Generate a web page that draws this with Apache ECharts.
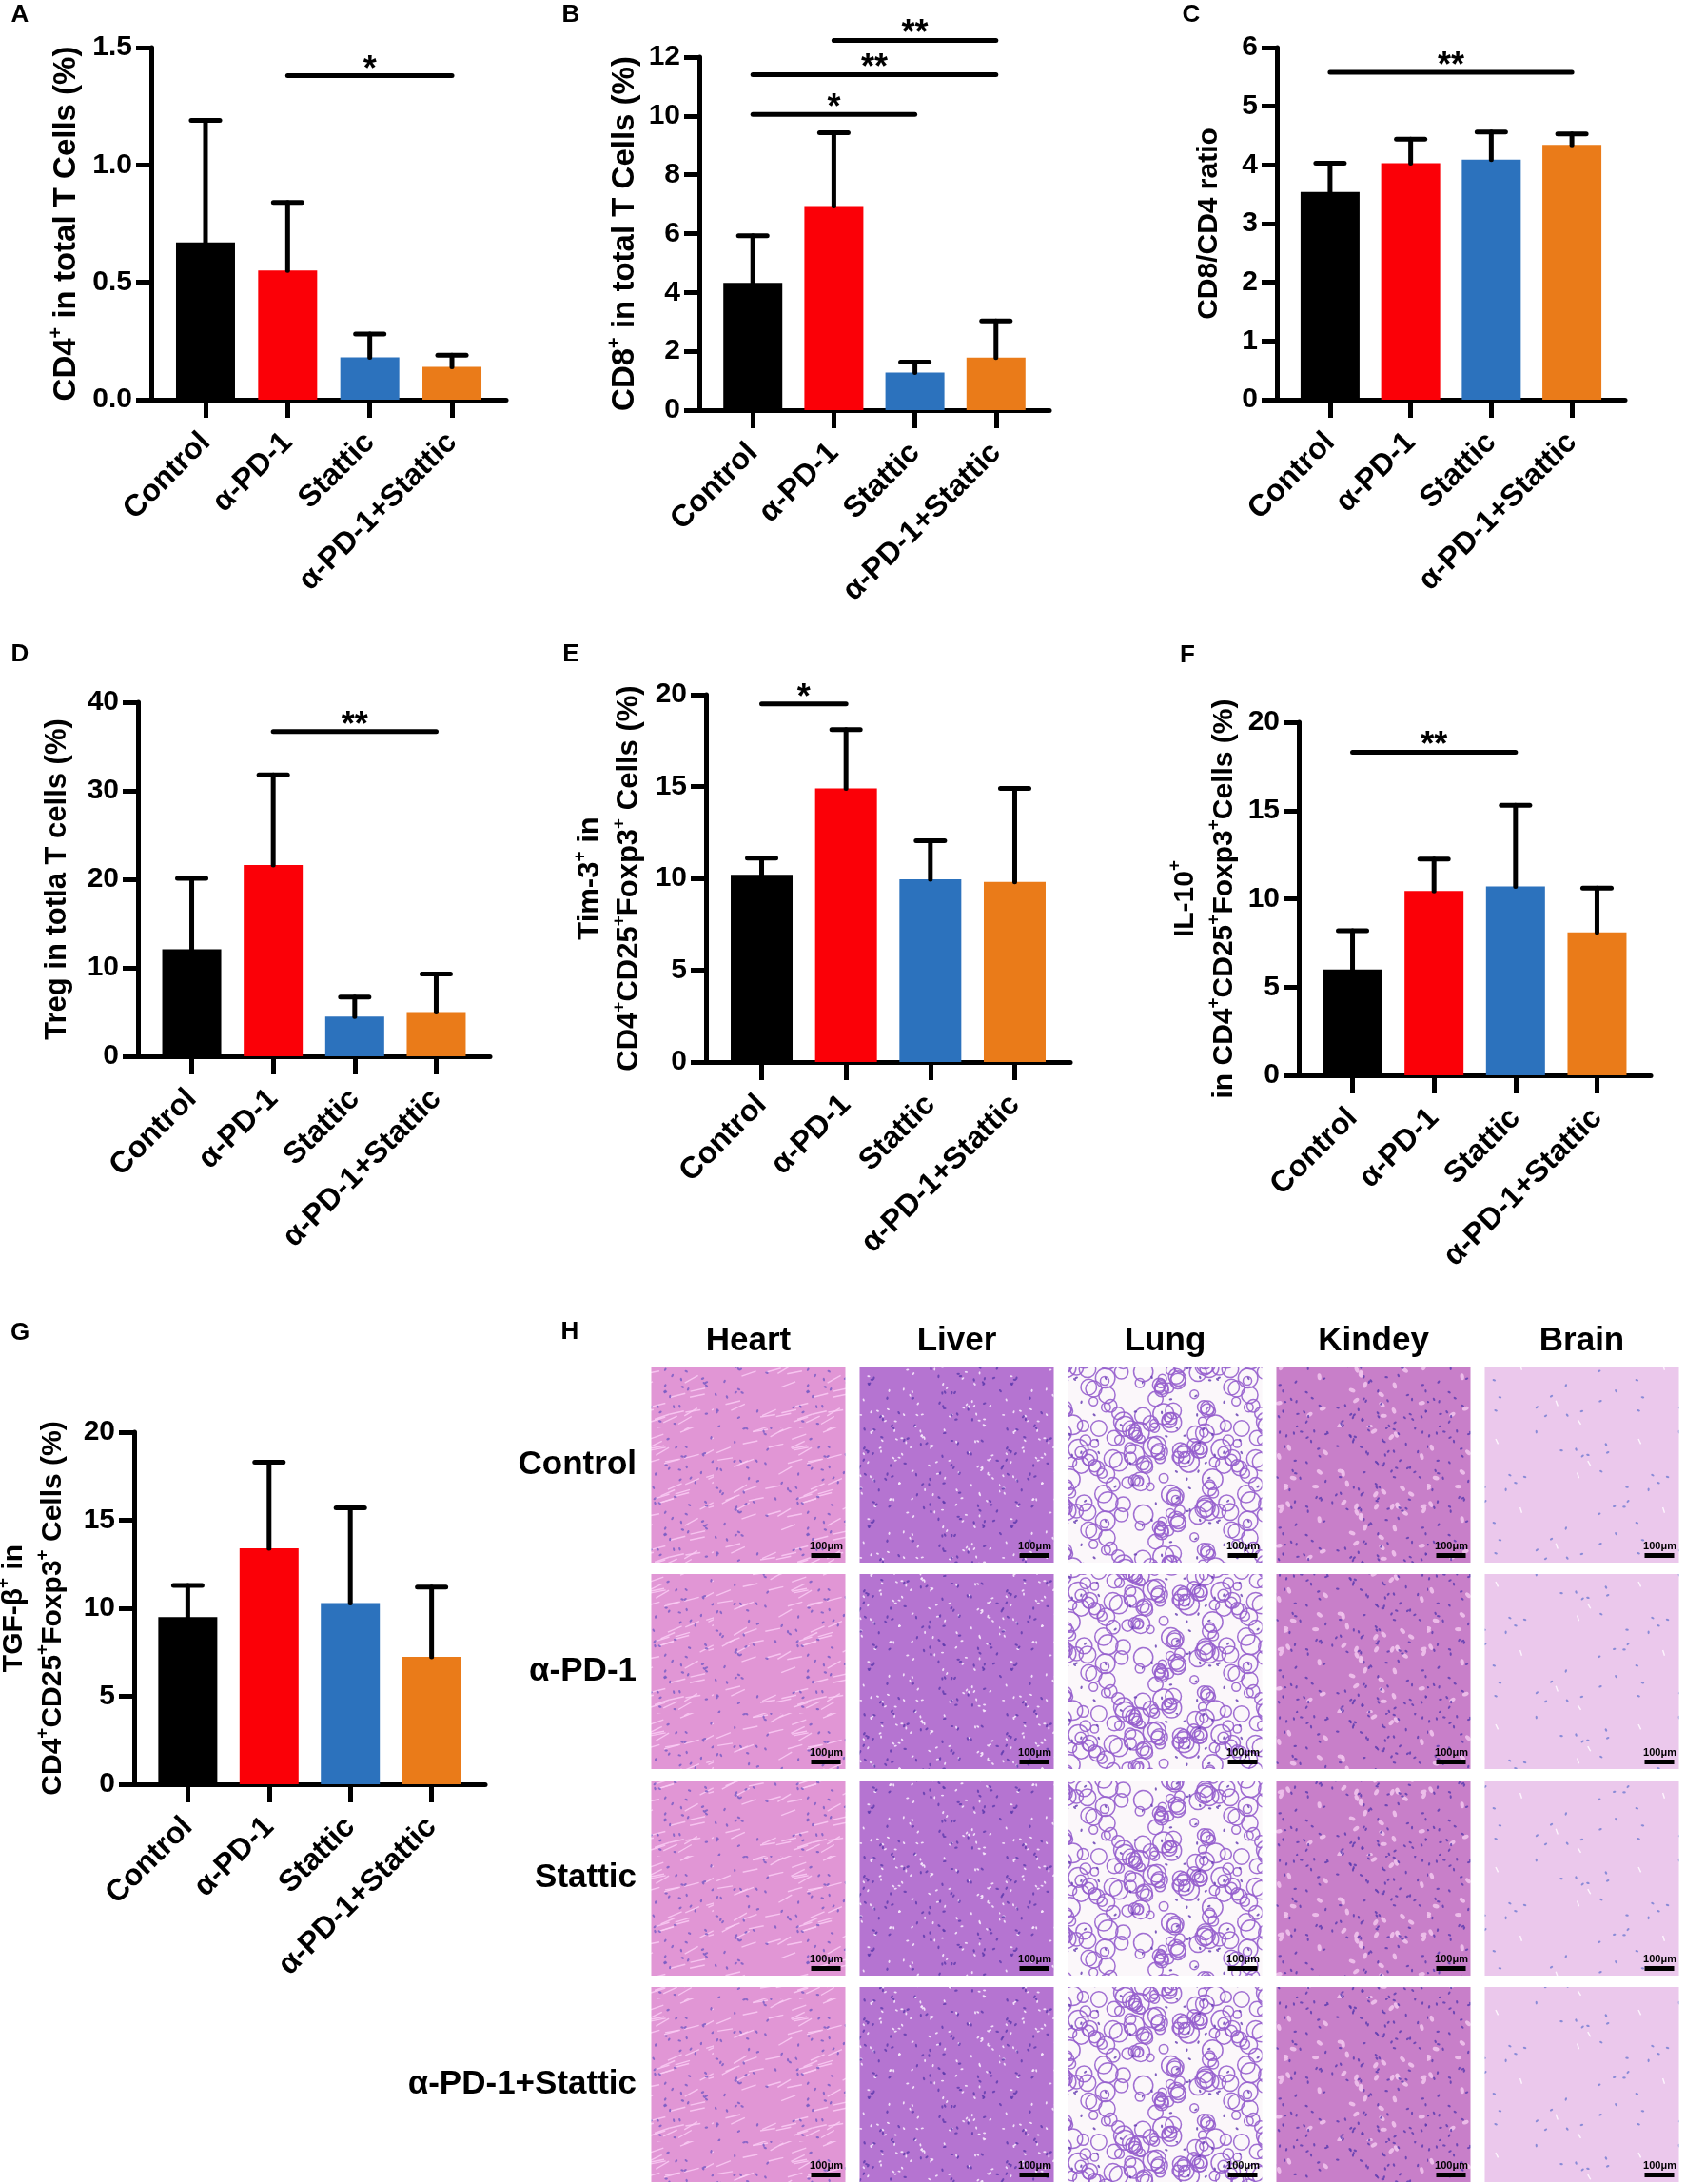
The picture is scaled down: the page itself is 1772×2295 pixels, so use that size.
<!DOCTYPE html>
<html>
<head>
<meta charset="utf-8">
<script src="https://cdn.jsdelivr.net/npm/echarts@6/dist/echarts.min.js"></script>
<style>
  html, body { margin: 0; padding: 0; background: #fff; }
  #main { width: 1772px; height: 2295px; }
</style>
</head>
<body>
<div id="main"></div>
<script>
// groups and colours shared by every bar panel
const groups = ['Control', 'α-PD-1', 'Stattic', 'α-PD-1+Stattic'];
const groupPos = [0, 1, 2, 3];
const barColors = ['#000000', '#FB0007', '#2C72BD', '#EA7B19'];

// A  CD4+ in total T cells
const cd4Mean = [0.67, 0.55, 0.18, 0.14];
const cd4Sd = [0.52, 0.29, 0.10, 0.05];
const cd4Sig = [[1, 3, 1.38, '*']];

// B  CD8+ in total T cells
const cd8Mean = [4.33, 6.94, 1.28, 1.79];
const cd8Sd = [1.60, 2.49, 0.35, 1.24];
const cd8Sig = [[0, 2, 10.05, '*'], [0, 3, 11.4, '**'], [1, 3, 12.57, '**']];

// C  CD8/CD4 ratio
const ratioMean = [3.54, 4.03, 4.09, 4.34];
const ratioSd = [0.49, 0.41, 0.47, 0.19];
const ratioSig = [[0, 3, 5.58, '**']];

// D  Treg
const tregMean = [12.1, 21.6, 4.5, 5.0];
const tregSd = [8.0, 10.2, 2.2, 4.3];
const tregSig = [[1, 3, 36.7, '**']];

// E  Tim-3+
const timMean = [10.2, 14.9, 9.95, 9.8];
const timSd = [0.9, 3.2, 2.1, 5.1];
const timSig = [[0, 1, 19.5, '*']];

// F  IL-10+
const il10Mean = [6.0, 10.45, 10.7, 8.1];
const il10Sd = [2.2, 1.8, 4.6, 2.5];
const il10Sig = [[0, 2, 18.3, '**']];

// G  TGF-beta+
const tgfMean = [9.5, 13.4, 10.3, 7.25];
const tgfSd = [1.8, 4.9, 5.4, 3.95];
const tgfSig = [];

// H  HE staining grid
const tissues = ['Heart', 'Liver', 'Lung', 'Kindey', 'Brain'];

const FONT = 'Liberation Sans, Arial, Helvetica, sans-serif';

const panels = [
  { letter: 'A', lx: 21, ly: 16, mean: cd4Mean, sd: cd4Sd, sig: cd4Sig, max: 1.5, step: 0.5, dec: 1,
    name: 'CD4{s|+} in total T Cells (%)', nfs: 33, gap: 69, bw: 62, rect: [159, 50, 373, 370] },
  { letter: 'B', lx: 600, ly: 16, mean: cd8Mean, sd: cd8Sd, sig: cd8Sig, max: 12, step: 2, dec: 0,
    name: 'CD8{s|+} in total T Cells (%)', nfs: 33, gap: 58, bw: 62, rect: [735, 60, 368, 371] },
  { letter: 'C', lx: 1252, ly: 16, mean: ratioMean, sd: ratioSd, sig: ratioSig, max: 6, step: 1, dec: 0,
    name: 'CD8/CD4 ratio', nfs: 30, gap: 51, bw: 62, rect: [1342, 50, 366, 370] },
  { letter: 'D', lx: 21, ly: 688, mean: tregMean, sd: tregSd, sig: tregSig, max: 40, step: 10, dec: 0,
    name: 'Treg in totla T cells (%)', nfs: 31, gap: 64, bw: 62, rect: [145, 738, 370, 372] },
  { letter: 'E', lx: 600, ly: 688, mean: timMean, sd: timSd, sig: timSig, max: 20, step: 5, dec: 0,
    name: 'Tim-3{s|+} in\nCD4{s|+}CD25{s|+}Foxp3{s|+} Cells (%)', nfs: 31, gap: 60, bw: 65, rect: [742, 730, 383, 386] },
  { letter: 'F', lx: 1248, ly: 689, mean: il10Mean, sd: il10Sd, sig: il10Sig, max: 20, step: 5, dec: 0,
    name: 'IL-10{s|+}\nin CD4{s|+}CD25{s|+}Foxp3{s|+}Cells (%)', nfs: 30, gap: 53, bw: 62, rect: [1365, 759, 370, 371] },
  { letter: 'G', lx: 21, ly: 1401, mean: tgfMean, sd: tgfSd, sig: tgfSig, max: 20, step: 5, dec: 0,
    name: 'TGF-β{s|+} in\nCD4{s|+}CD25{s|+}Foxp3{s|+} Cells (%)', nfs: 30, gap: 65, bw: 62, rect: [141, 1505, 369, 370] }
];

// texture tiles for the stained sections (deterministic hash, only a fill texture)
function hash(n) {
  n = (n ^ 61) ^ (n >>> 16);
  n = n + (n << 3);
  n = n ^ (n >>> 4);
  n = Math.imul(n, 0x27d4eb2d);
  n = n ^ (n >>> 15);
  return (n >>> 0) / 4294967296;
}
const tileStyles = {
  Heart:  { base: '#E196D5', streak: 'rgba(250,205,244,0.85)', nStreak: 70, ang: -0.35, len: 16,
            dot: 'rgba(110,85,195,0.75)', nDot: 90 },
  Liver:  { base: '#B574D1', speck: 'rgba(246,232,252,0.9)', nSpeck: 110, sr: 1.6,
            dot: 'rgba(92,58,172,0.8)', nDot: 90 },
  Lung:   { base: '#FBF7FA', net: 'rgba(150,95,205,0.9)', nNet: 120, r0: 4, r1: 7,
            dot: 'rgba(105,65,180,0.85)', nDot: 40 },
  Kindey: { base: '#C87FC9', speck: 'rgba(240,195,236,0.9)', nSpeck: 45, sr: 3.5,
            dot: 'rgba(88,58,175,0.8)', nDot: 130 },
  Brain:  { base: '#EBC8EC', streak: 'rgba(255,250,255,0.9)', nStreak: 6, ang: 1.2, len: 6,
            dot: 'rgba(120,128,212,0.85)', nDot: 28 }
};

function makeTile(kind, seed) {
  const S = 150;
  const cv = document.createElement('canvas');
  cv.width = S; cv.height = S;
  const g = cv.getContext('2d');
  const t = tileStyles[kind];
  g.fillStyle = t.base;
  g.fillRect(0, 0, S, S);
  let k = seed * 1000;
  if (t.net) {
    g.strokeStyle = t.net;
    g.lineWidth = 1.5;
    for (let i = 0; i < t.nNet; i++) {
      const x = hash(k++) * S, y = hash(k++) * S, r = t.r0 + hash(k++) * t.r1;
      for (let dx = -S; dx <= S; dx += S) {
        for (let dy = -S; dy <= S; dy += S) {
          g.beginPath();
          g.arc(x + dx, y + dy, r, 0, Math.PI * 2);
          g.stroke();
        }
      }
    }
  }
  if (t.streak) {
    g.strokeStyle = t.streak;
    g.lineWidth = 1.4;
    for (let i = 0; i < t.nStreak; i++) {
      const x = hash(k++) * S, y = hash(k++) * S;
      const a = t.ang + (hash(k++) - 0.5) * 0.4;
      g.beginPath();
      g.moveTo(x, y);
      g.lineTo(x + Math.cos(a) * t.len, y + Math.sin(a) * t.len);
      g.stroke();
    }
  }
  if (t.speck) {
    g.fillStyle = t.speck;
    for (let i = 0; i < t.nSpeck; i++) {
      g.beginPath();
      g.ellipse(hash(k++) * S, hash(k++) * S, t.sr, t.sr * 0.6, hash(k++) * 3, 0, Math.PI * 2);
      g.fill();
    }
  }
  g.fillStyle = t.dot;
  for (let i = 0; i < t.nDot; i++) {
    g.beginPath();
    g.ellipse(hash(k++) * S, hash(k++) * S, 1.8, 1.1, hash(k++) * 3, 0, Math.PI * 2);
    g.fill();
  }
  return cv;
}
const tiles = {};
tissues.forEach(function (t, i) { tiles[t] = makeTile(t, i + 1); });

const myChart = echarts.init(document.getElementById('main'));

const grid = [], xAxis = [], yAxis = [], series = [], graphic = [];

panels.forEach(function (p, i) {
  grid.push({ left: p.rect[0], top: p.rect[1], width: p.rect[2], height: p.rect[3], outerBoundsMode: 'none' });
  // groups sit on a value axis so the outer gaps match the original layout
  xAxis.push({
    gridIndex: i, type: 'value', min: -0.66, max: 3.66,
    axisLine: { show: true, lineStyle: { color: '#000', width: 5 } },
    axisTick: { show: true, customValues: groupPos, length: 19, lineStyle: { color: '#000', width: 5 } },
    axisLabel: {
      customValues: groupPos, rotate: 45, margin: 40, align: 'right', verticalAlign: 'middle',
      fontSize: 32, fontWeight: 'bold', color: '#000', fontFamily: FONT,
      formatter: function (v) { return groups[Math.round(v)]; }
    },
    splitLine: { show: false }
  });
  yAxis.push({
    gridIndex: i, type: 'value', min: 0, max: p.max, interval: p.step,
    axisLine: { show: true, onZero: false, lineStyle: { color: '#000', width: 5 } },
    axisTick: { show: true, length: 16, lineStyle: { color: '#000', width: 5 } },
    axisLabel: {
      margin: 20, fontSize: 30, fontWeight: 'bold', color: '#000', fontFamily: FONT,
      formatter: (function (d) { return function (v) { return v.toFixed(d); }; })(p.dec)
    },
    splitLine: { show: false },
    name: p.name, nameLocation: 'middle', nameGap: p.gap,
    nameTextStyle: {
      fontSize: p.nfs, fontWeight: 'bold', color: '#000', fontFamily: FONT, lineHeight: 41,
      rich: { s: { fontSize: Math.round(p.nfs * 0.62), fontWeight: 'bold', color: '#000', fontFamily: FONT,
                   verticalAlign: 'top', lineHeight: 41 } }
    }
  });

  // bars
  series.push({
    type: 'bar', xAxisIndex: i, yAxisIndex: i, barWidth: p.bw, silent: true,
    data: p.mean.map(function (v, k) { return { value: [groupPos[k], v], itemStyle: { color: barColors[k] } }; }),
    z: 2
  });

  // upper error bars (mean + SD)
  series.push({
    type: 'custom', xAxisIndex: i, yAxisIndex: i, silent: true, z: 3,
    encode: { x: 0, y: [1, 2] },
    data: p.mean.map(function (v, k) { return [groupPos[k], v, v + p.sd[k]]; }),
    renderItem: function (params, api) {
      const a = api.coord([api.value(0), api.value(1)]);
      const b = api.coord([api.value(0), api.value(2)]);
      const st = { stroke: '#000', lineWidth: 5, lineCap: 'round' };
      return {
        type: 'group', children: [
          { type: 'line', shape: { x1: a[0], y1: a[1], x2: b[0], y2: b[1] }, style: st },
          { type: 'line', shape: { x1: b[0] - 15, y1: b[1], x2: b[0] + 15, y2: b[1] }, style: st }
        ]
      };
    }
  });

  // significance brackets
  if (p.sig.length) {
    series.push({
      type: 'custom', xAxisIndex: i, yAxisIndex: i, silent: true, clip: false, z: 4,
      encode: { x: [0, 1], y: 2 },
      data: p.sig.map(function (s) { return [s[0], s[1], s[2]]; }),
      renderItem: (function (sig) {
        return function (params, api) {
          const a = api.coord([api.value(0), api.value(2)]);
          const b = api.coord([api.value(1), api.value(2)]);
          return {
            type: 'group', children: [
              { type: 'line', shape: { x1: a[0], y1: a[1], x2: b[0], y2: b[1] },
                style: { stroke: '#000', lineWidth: 5, lineCap: 'round' } },
              { type: 'text', x: (a[0] + b[0]) / 2, y: a[1] - 6,
                style: { text: sig[params.dataIndex][3], font: 'bold 36px ' + FONT, fill: '#000',
                         textAlign: 'center', textVerticalAlign: 'middle' } }
            ]
          };
        };
      })(p.sig)
    });
  }

  graphic.push({
    type: 'text', x: p.lx, y: p.ly,
    style: { text: p.letter, font: 'bold 26px ' + FONT, fill: '#000', textAlign: 'center', textVerticalAlign: 'middle' }
  });
});

// H: section grid drawn on its own category grid
const hIdx = panels.length;
grid.push({ left: 677, top: 1431, width: 1095, height: 868, outerBoundsMode: 'none' });
xAxis.push({
  gridIndex: hIdx, type: 'category', data: tissues, position: 'top',
  axisLine: { show: false }, axisTick: { show: false }, splitLine: { show: false },
  axisLabel: { margin: 4, fontSize: 35, fontWeight: 'bold', color: '#000', fontFamily: FONT }
});
yAxis.push({
  gridIndex: hIdx, type: 'category', data: groups, inverse: true,
  axisLine: { show: false }, axisTick: { show: false }, splitLine: { show: false },
  axisLabel: { margin: 8, fontSize: 35, fontWeight: 'bold', color: '#000', fontFamily: FONT }
});
const cells = [];
groups.forEach(function (g, r) { tissues.forEach(function (t, c) { cells.push([c, r]); }); });
series.push({
  type: 'custom', xAxisIndex: hIdx, yAxisIndex: hIdx, silent: true,
  encode: { x: 0, y: 1 },
  data: cells,
  renderItem: function (params, api) {
    const c = api.coord([api.value(0), api.value(1)]);
    const s = api.size([1, 1]);
    const w = s[0] - 15, h = s[1] - 12;
    const x0 = c[0] - w / 2, y0 = c[1] - h / 2;
    return {
      type: 'group', children: [
        { type: 'rect', shape: { x: x0, y: y0, width: w, height: h },
          style: { fill: { image: tiles[tissues[api.value(0)]], repeat: 'repeat' } } },
        { type: 'rect', shape: { x: x0 + w - 36, y: y0 + h - 10, width: 31, height: 5 }, style: { fill: '#000' } },
        { type: 'text', x: x0 + w - 20, y: y0 + h - 12,
          style: { text: '100μm', font: 'bold 11px ' + FONT, fill: '#000', textAlign: 'center', textVerticalAlign: 'bottom' } }
      ]
    };
  }
});
graphic.push({
  type: 'text', x: 599, y: 1400,
  style: { text: 'H', font: 'bold 26px ' + FONT, fill: '#000', textAlign: 'center', textVerticalAlign: 'middle' }
});

const option = {
  backgroundColor: '#ffffff',
  animation: false,
  textStyle: { fontFamily: FONT },
  grid: grid,
  xAxis: xAxis,
  yAxis: yAxis,
  series: series,
  graphic: graphic
};
if (option && typeof option === 'object') {
  myChart.setOption(option);
}
</script>
</body>
</html>
